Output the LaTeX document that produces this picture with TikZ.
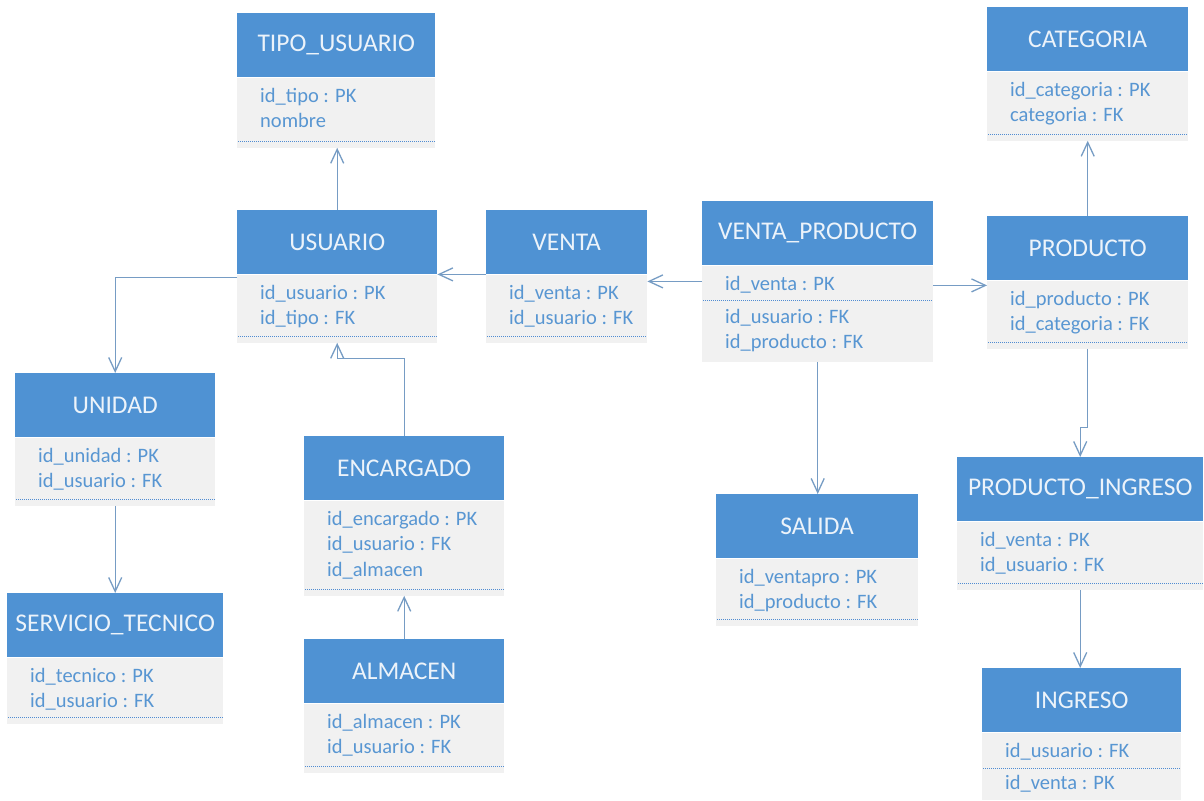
\documentclass[tikz,border=0pt]{standalone}
\usepackage{fontspec}
\setmainfont{Carlito}
\usetikzlibrary{arrows.meta}
\definecolor{hdrblue}{RGB}{79,146,211}
\definecolor{hdrtext}{RGB}{236,243,250}
\definecolor{bodygray}{RGB}{241,241,241}
\definecolor{bodytext}{RGB}{88,150,210}
\definecolor{connc}{RGB}{118,156,196}
\definecolor{dotc}{RGB}{80,140,210}
\tikzset{
  hdr/.style={rectangle, fill=hdrblue, text=hdrtext, minimum height=64pt, inner sep=0pt,
    font=\fontsize{25.5}{30}\selectfont, anchor=north west},
  bdy/.style={rectangle, fill=bodygray, inner sep=0pt, anchor=north west},
  attr/.style={anchor=north west, inner sep=0pt, align=left, text=bodytext,
    font=\fontsize{20.5}{25.5}\selectfont},
  dotl/.style={dotc, line width=0.9pt, dash pattern=on 1pt off 1pt},
  conn/.style={connc, line width=1.3pt, -{Straight Barb[length=14pt,width=13pt]}},
}
\newcommand\ERbox[7]{%
  \node[hdr, minimum width=#4pt] (#1) at (#2,#3) {#6};
  \node[bdy, minimum width=#4pt, minimum height=#5pt] (#1B) at (#1.south west) {};
  \node[attr] (#1T) at ([xshift=23pt,yshift=-10.5pt]#1B.north west) {#7};
}
\newcommand\ERdot[1]{%
  \draw[dotl] ([xshift=1pt,yshift=6pt]#1B.south west) -- ([xshift=-1pt,yshift=6pt]#1B.south east);
}
\begin{document}
\begin{tikzpicture}[x=1pt,y=-1pt]
\fill[white] (0,0) rectangle (1204,800);
\useasboundingbox (0,0) rectangle (1204,800);

\ERbox{tipo}{237}{13}{198}{70}{TIPO\_USUARIO}{id\_tipo : PK\\nombre}
\ERdot{tipo}
\ERbox{usu}{237}{210}{200}{68}{USUARIO}{id\_usuario : PK\\id\_tipo : FK}
\ERdot{usu}
\ERbox{ven}{486}{210}{161}{68}{VENTA}{id\_venta : PK\\id\_usuario : FK}
\ERdot{ven}
\ERbox{vp}{702}{201}{231}{96}{VENTA\_PRODUCTO}{id\_venta : PK}
\node[attr] (vpT2) at ([xshift=23pt,yshift=-43.5pt]vpB.north west) {id\_usuario : FK\\id\_producto : FK};
\draw[dotl] ([xshift=1pt,yshift=-35pt]vpB.north west) -- ([xshift=-1pt,yshift=-35pt]vpB.north east);
\ERbox{cat}{987}{7}{201}{69}{CATEGORIA}{id\_categoria : PK\\categoria : FK}
\ERdot{cat}
\ERbox{prod}{987}{216}{201}{68}{PRODUCTO}{id\_producto : PK\\id\_categoria : FK}
\ERdot{prod}
\ERbox{uni}{15}{373}{200}{68}{UNIDAD}{id\_unidad : PK\\id\_usuario : FK}
\ERdot{uni}
\ERbox{serv}{7}{593}{216}{66}{SERVICIO\_TECNICO}{id\_tecnico : PK\\id\_usuario : FK}
\ERdot{serv}
\ERbox{enc}{304}{436}{200}{95}{ENCARGADO}{id\_encargado : PK\\id\_usuario : FK\\id\_almacen}
\ERdot{enc}
\ERbox{alm}{304}{639}{200}{69}{ALMACEN}{id\_almacen : PK\\id\_usuario : FK}
\ERdot{alm}
\ERbox{sal}{716}{494}{202}{67}{SALIDA}{id\_ventapro : PK\\id\_producto : FK}
\ERdot{sal}
\ERbox{pi}{957}{457}{246}{68}{PRODUCTO\_INGRESO}{id\_venta : PK\\id\_usuario : FK}
\ERdot{pi}
\ERbox{ing}{982}{668}{199}{67}{INGRESO}{id\_usuario : FK}
\node[attr] (ingT2) at ([xshift=23pt,yshift=-42.5pt]ingB.north west) {id\_venta : PK};
\draw[dotl] ([xshift=1pt,yshift=-36pt]ingB.north west) -- ([xshift=-1pt,yshift=-36pt]ingB.north east);

% connectors
\draw[conn] (usu.north) -- (usu.north |- tipoB.south);
\draw[conn] (venB.north west) -- (usuB.north east);
\coordinate (vpL) at ([yshift=-16pt]vpB.north west);
\draw[conn] (vpL) -- (vpL -| venB.east);
\coordinate (vpR) at ([yshift=-20pt]vpB.north east);
\draw[conn] (vpR) -- (vpR -| prodB.west);
\draw[conn] (prod.north) -- (prod.north |- catB.south);
\draw[conn] (vpB.south) -- (vpB.south |- sal.north);
\coordinate (jog) at ([yshift=-79pt]prodB.south);
\draw[conn] (prodB.south) -- (jog) -| (pi.north);
\draw[conn] (piB.south) -- (piB.south |- ing.north);
\coordinate (usuL) at ([yshift=-3pt]usu.south west);
\draw[conn] (usuL) -| (uni.north);
\draw[conn] (uniB.south) -- (uniB.south |- serv.north);
\coordinate (ej) at ([yshift=-16pt]usuB.south);
\draw[conn] (enc.north) |- (ej) -- (usuB.south);
\draw[conn] (alm.north) -- (encB.south);
\end{tikzpicture}
\end{document}
